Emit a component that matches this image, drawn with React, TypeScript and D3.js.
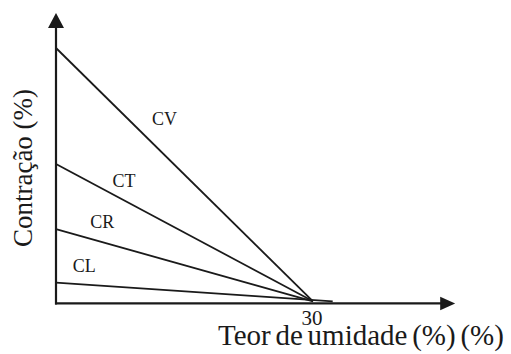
import React from "react";
import * as d3 from "d3";

// Data
const series = ["CV", "CT", "CR", "CL"];
const startValues = [100, 54.2, 28.5, 7.4]; // contraction at 0% moisture
const endMoisture = [30, 30, 30, 32.3];
const endValues = [0, 0, 0, 0];
const xTicks = [30];
const xLabel = "Teor de umidade (%) (%)";
const yLabel = "Contração (%)";

// Layout (label anchors in data units)
const labelX = [11.2, 6.6, 4.0, 1.95];
const labelY = [69.6, 45, 28.8, 11.7];

const W = 511;
const H = 354;
const FONT = "'Liberation Serif', 'Times New Roman', serif";
const INK = "#1a1a1a";

export default function App() {
  const x = d3.scaleLinear().domain([0, 30]).range([56, 313]);
  const y = d3.scaleLinear().domain([0, 100]).range([301.3, 48]);

  const axisY = y(-0.85);
  const xEnd = x(46.6);
  const xArrowBase = x(44.85);
  const yTop = y(113.8);
  const yArrowBase = y(107.9);

  const line = d3
    .line<[number, number]>()
    .x((d) => x(d[0]))
    .y((d) => y(d[1]));

  return (
    <svg
      width={W}
      height={H}
      style={{ position: "absolute", left: 0, top: 0, background: "#fff" }}
    >
      {/* series lines */}
      {series.map((s, i) => (
        <path
          key={s}
          d={
            line([
              [0, startValues[i]],
              [endMoisture[i], endValues[i]],
            ]) || ""
          }
          fill="none"
          stroke={INK}
          strokeWidth={1.8}
        />
      ))}
      {/* axes */}
      <line x1={x(0)} x2={x(0)} y1={axisY + 1} y2={yArrowBase} stroke={INK} strokeWidth={2.2} />
      <path
        d={`M${x(0)},${yTop} L${x(0) - 8},${yArrowBase} L${x(0) + 8},${yArrowBase} Z`}
        fill={INK}
      />
      <line x1={x(0) - 1} x2={xArrowBase + 1} y1={axisY} y2={axisY} stroke={INK} strokeWidth={2.2} />
      <path
        d={`M${xEnd},${axisY} L${xArrowBase},${axisY - 6.8} L${xArrowBase},${axisY + 6.8} Z`}
        fill={INK}
      />
      {/* ticks */}
      {xTicks.map((t) => (
        <text
          key={t}
          x={x(t) - 1}
          y={325}
          textAnchor="middle"
          fontFamily={FONT}
          fontSize={21}
          fill={INK}
        >
          {t}
        </text>
      ))}
      {/* series labels */}
      {series.map((s, i) => (
        <text
          key={s}
          x={x(labelX[i])}
          y={y(labelY[i])}
          fontFamily={FONT}
          fontSize={18}
          fill={INK}
        >
          {s}
        </text>
      ))}
      {/* axis titles */}
      <text x={218} y={345} fontFamily={FONT} fontSize={29} wordSpacing={-2.5} fill={INK}>
        {xLabel}
      </text>
      <text
        transform={`translate(32,168) rotate(-90)`}
        textAnchor="middle"
        fontFamily={FONT}
        fontSize={27}
        fill={INK}
      >
        {yLabel}
      </text>
    </svg>
  );
}
